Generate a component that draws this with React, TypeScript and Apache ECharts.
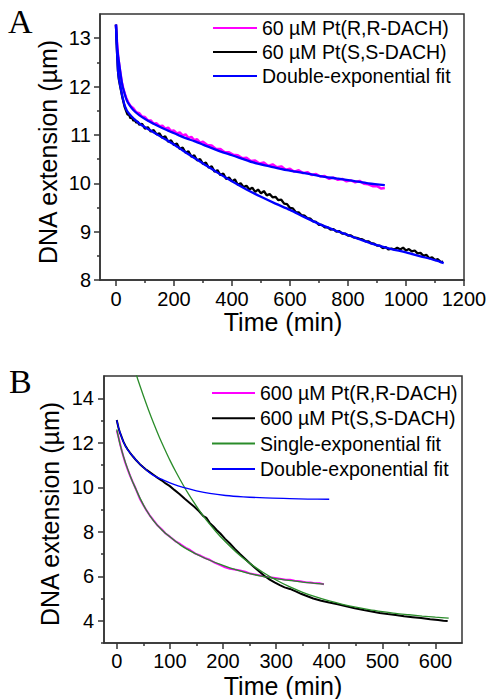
import { useEffect, useRef } from 'react';
import * as echarts from 'echarts';

const FONT = '"Liberation Sans", Arial, sans-serif';
const SERIF = '"Liberation Serif", "Times New Roman", serif';

// ---------- Panel A ----------
const xTicksA = [0, 200, 400, 600, 800, 1000, 1200];
const xMinorA = [100, 300, 500, 700, 900, 1100];
const yTicksA = [8, 9, 10, 11, 12, 13];
const yMinorA = [8.5, 9.5, 10.5, 11.5, 12.5];

const nameRR60 = '60 µM Pt(R,R-DACH)';
const nameSS60 = '60 µM Pt(S,S-DACH)';
const nameDouble = 'Double-exponential fit';
const nameRR600 = '600 µM Pt(R,R-DACH)';
const nameSS600 = '600 µM Pt(S,S-DACH)';
const nameSingle = 'Single-exponential fit';

const rr60Data = [
  [0, 13.28], [4, 12.88], [8, 12.6], [12, 12.42], [16, 12.26], [20, 12.1], [25, 11.97], [30, 11.86],
  [36, 11.76], [42, 11.68], [50, 11.6], [60, 11.55], [70, 11.47], [80, 11.45], [90, 11.38], [100, 11.37],
  [110, 11.3], [120, 11.3], [130, 11.23], [140, 11.24], [150, 11.18], [160, 11.19], [170, 11.13], [180, 11.15],
  [190, 11.08], [200, 11.09], [210, 11.03], [220, 11.05], [230, 10.99], [240, 11.01], [250, 10.94], [260, 10.96],
  [270, 10.89], [280, 10.91], [290, 10.84], [300, 10.86], [315, 10.79], [330, 10.78], [345, 10.71], [360, 10.71],
  [375, 10.64], [390, 10.64], [405, 10.59], [420, 10.58], [435, 10.52], [450, 10.53], [465, 10.46], [480, 10.47],
  [495, 10.41], [510, 10.43], [525, 10.36], [540, 10.39], [555, 10.33], [570, 10.35], [585, 10.28], [600, 10.3],
  [615, 10.24], [630, 10.27], [645, 10.21], [660, 10.23], [675, 10.17], [690, 10.19], [705, 10.14], [720, 10.15],
  [735, 10.09], [750, 10.12], [765, 10.07], [780, 10.09], [795, 10.04], [810, 10.06], [825, 10.02], [840, 10.05],
  [855, 9.99], [870, 9.98], [885, 9.94], [900, 9.94], [915, 9.89], [927, 9.9],
];
const rr60Fit = [
  [0, 13.28], [3, 12.95], [6, 12.7], [10, 12.52], [14, 12.34], [18, 12.17], [23, 12.0], [30, 11.85],
  [37, 11.72], [45, 11.63], [59, 11.52], [80, 11.41], [106, 11.31], [140, 11.2], [175, 11.1], [210, 11.01],
  [238, 10.94], [270, 10.87], [300, 10.8], [359, 10.66], [400, 10.58], [473, 10.43], [530, 10.35], [589, 10.27],
  [650, 10.21], [703, 10.15], [760, 10.1], [818, 10.05], [870, 10.0], [927, 9.96],
];
const ss60Data = [
  [0, 13.28], [3, 12.8], [7, 12.32], [10, 12.15], [14, 12.02], [18, 11.9], [22, 11.78], [26, 11.68],
  [30, 11.58], [35, 11.5], [40, 11.42], [45, 11.42], [50, 11.34], [55, 11.37], [60, 11.29], [65, 11.32],
  [70, 11.25], [75, 11.28], [80, 11.21], [90, 11.23], [100, 11.13], [110, 11.16], [120, 11.07], [130, 11.1],
  [140, 11.01], [150, 11.03], [160, 10.94], [170, 10.97], [180, 10.86], [190, 10.89], [200, 10.79], [210, 10.82],
  [220, 10.71], [230, 10.74], [240, 10.63], [250, 10.66], [260, 10.55], [270, 10.58], [280, 10.47], [290, 10.5],
  [300, 10.4], [310, 10.43], [320, 10.32], [330, 10.35], [340, 10.24], [350, 10.27], [360, 10.17], [370, 10.2],
  [380, 10.09], [390, 10.12], [400, 10.04], [410, 10.08], [420, 9.97], [430, 10.0], [440, 9.92], [450, 9.95],
  [460, 9.87], [470, 9.91], [480, 9.82], [490, 9.87], [500, 9.79], [510, 9.84], [520, 9.75], [530, 9.78],
  [540, 9.71], [550, 9.72], [560, 9.65], [570, 9.66], [580, 9.58], [590, 9.57], [600, 9.49], [610, 9.48],
  [620, 9.4], [630, 9.4], [640, 9.34], [650, 9.33], [660, 9.28], [670, 9.27], [680, 9.21], [690, 9.2],
  [700, 9.14], [710, 9.14], [720, 9.09], [730, 9.09], [740, 9.04], [750, 9.05], [760, 9.0], [770, 9.01],
  [780, 8.96], [790, 8.96], [800, 8.92], [810, 8.92], [820, 8.88], [830, 8.87], [840, 8.85], [850, 8.84],
  [860, 8.8], [870, 8.8], [880, 8.76], [890, 8.75], [900, 8.71], [910, 8.71], [920, 8.66], [930, 8.68],
  [940, 8.63], [950, 8.65], [960, 8.63], [970, 8.67], [980, 8.63], [990, 8.67], [1000, 8.61], [1010, 8.64],
  [1020, 8.59], [1030, 8.61], [1040, 8.55], [1050, 8.56], [1060, 8.5], [1070, 8.52], [1080, 8.45], [1090, 8.47],
  [1100, 8.41], [1110, 8.43], [1120, 8.37], [1128, 8.38],
];
const ss60Fit = [
  [0, 13.28], [3, 12.82], [7, 12.34], [10, 12.18], [16, 11.98], [22, 11.8], [28, 11.65], [34, 11.55],
  [40, 11.48], [54, 11.38], [70, 11.29], [89, 11.2], [117, 11.1], [150, 10.98], [200, 10.8], [250, 10.6],
  [300, 10.41], [350, 10.22], [400, 10.04], [450, 9.87], [500, 9.72], [550, 9.58], [600, 9.45], [650, 9.3],
  [700, 9.16], [750, 9.04], [800, 8.93], [850, 8.82], [900, 8.72], [950, 8.64], [1000, 8.57], [1050, 8.49],
  [1100, 8.41], [1130, 8.35],
];

// ---------- Panel B ----------
const xTicksB = [0, 100, 200, 300, 400, 500, 600];
const xMinorB = [50, 150, 250, 350, 450, 550];
const yTicksB = [4, 6, 8, 10, 12, 14];
const yMinorB = [3, 5, 7, 9, 11, 13];

const rr600Data = [
  [0, 12.55], [3, 12.28], [6, 11.98], [9, 11.68], [12.5, 11.38], [16, 11.1], [20, 10.84], [25, 10.52],
  [30, 10.24], [36, 9.92], [44, 9.46], [50, 9.2], [56, 8.96], [62, 8.74], [69, 8.52], [77, 8.28],
  [85, 8.1], [92, 7.92], [100, 7.78], [110, 7.58], [120, 7.44], [130, 7.28], [138, 7.18], [148, 7.02],
  [158, 6.92], [166, 6.82], [175, 6.74], [185, 6.6], [195, 6.5], [204, 6.4], [213, 6.34], [222, 6.3],
  [232, 6.26], [242, 6.2], [251, 6.12], [260, 6.08], [270, 6.03], [280, 5.98], [288, 5.95], [298, 5.92],
  [310, 5.88], [318, 5.84], [326, 5.84], [335, 5.8], [345, 5.78], [355, 5.73], [365, 5.72], [375, 5.68],
  [383, 5.68], [390, 5.64],
];
const rr600Fit = [
  [0, 12.6], [6, 11.95], [12.5, 11.4], [20, 10.86], [28, 10.35], [36, 9.92], [44, 9.5], [55, 9.0],
  [69, 8.5], [85, 8.08], [100, 7.77], [120, 7.4], [138, 7.14], [158, 6.9], [175, 6.72], [195, 6.53],
  [213, 6.38], [235, 6.22], [251, 6.12], [270, 6.02], [288, 5.94], [310, 5.86], [330, 5.8], [350, 5.74],
  [370, 5.69], [390, 5.65],
];
const ss600Data = [
  [0, 13.02], [3, 12.7], [6, 12.45], [9, 12.27], [12.5, 12.05], [16, 11.88], [20, 11.72], [25, 11.55],
  [31, 11.37], [37, 11.2], [43, 11.05], [50, 10.9], [56, 10.78], [62, 10.68], [69, 10.56], [77, 10.42],
  [85, 10.3], [92, 10.17], [100, 10.05], [109, 9.87], [118, 9.7], [128, 9.48], [138, 9.28], [146, 9.12],
  [155, 8.92], [163, 8.7], [169, 8.62], [175, 8.4], [182, 8.24], [188, 8.08], [195, 7.92], [204, 7.68],
  [213, 7.47], [222, 7.24], [232, 7.0], [241, 6.8], [251, 6.57], [260, 6.38], [270, 6.18], [279, 6.0],
  [288, 5.85], [298, 5.71], [307, 5.6], [316, 5.5], [326, 5.43], [337, 5.32], [348, 5.2], [359, 5.1],
  [370, 5.0], [385, 4.9], [400, 4.82], [416, 4.74], [432, 4.65], [448, 4.56], [465, 4.48], [480, 4.42],
  [495, 4.35], [510, 4.3], [525, 4.26], [541, 4.2], [557, 4.16], [573, 4.12], [590, 4.07], [605, 4.03],
  [615, 4.0], [623, 3.99],
];
const ss600Single = [
  [37, 15.04], [40, 14.82], [50, 14.12], [60, 13.46], [70, 12.84], [80, 12.26], [90, 11.73], [100, 11.22],
  [112, 10.66], [125, 10.1], [137, 9.62], [150, 9.15], [162, 8.74], [175, 8.34], [187, 8.0], [200, 7.66],
  [225, 7.08], [250, 6.59], [275, 6.18], [300, 5.83], [325, 5.53], [350, 5.28], [375, 5.07], [400, 4.89],
  [425, 4.74], [450, 4.61], [475, 4.5], [500, 4.41], [525, 4.33], [550, 4.27], [575, 4.21], [600, 4.16],
  [625, 4.12],
];
const ss600Double = [
  [0, 13.02], [5, 12.55], [12.5, 12.05], [20, 11.7], [31, 11.37], [43, 11.05], [56, 10.77], [70, 10.52],
  [88, 10.32], [105, 10.15], [125, 9.99], [150, 9.84], [175, 9.72], [205, 9.63], [238, 9.57], [280, 9.52],
  [326, 9.49], [360, 9.47], [400, 9.46],
];

const MAGENTA = '#ff00ff';
const BLACK = '#000000';
const BLUE = '#0000ff';
const GREEN = '#2a8c2a';
const AXIS = '#333333';

function mainAxis(grid: number, min: number, max: number, ticks: number[], margin: number, pos: string) {
  return {
    type: 'value', gridIndex: grid, min, max, position: pos,
    axisLine: { show: true, onZero: false, lineStyle: { color: AXIS, width: 1.5 } },
    axisTick: { show: true, inside: false, length: 6, customValues: ticks, lineStyle: { color: AXIS, width: 1.5 } },
    axisLabel: {
      show: true, customValues: ticks, margin, fontSize: 20, fontFamily: FONT, color: '#000',
      formatter: (v: number) => String(v),
    },
    splitLine: { show: false },
    minorTick: { show: false },
  };
}
function minorAxis(grid: number, min: number, max: number, ticks: number[], pos: string) {
  return {
    type: 'value', gridIndex: grid, min, max, position: pos,
    axisLine: { show: false, onZero: false },
    axisTick: { show: true, inside: false, length: 3, customValues: ticks, lineStyle: { color: AXIS, width: 1.5 } },
    axisLabel: { show: false },
    splitLine: { show: false },
  };
}
function line(name: string, data: number[][], color: string, width: number, xi: number, yi: number, smooth: boolean) {
  return {
    type: 'line', name, data, xAxisIndex: xi, yAxisIndex: yi,
    showSymbol: false, symbol: 'none', smooth: smooth ? 0.3 : false,
    lineStyle: { color, width }, itemStyle: { color },
    clip: true, silent: true,
  };
}

const legendText = { fontSize: 19.5, fontFamily: FONT, color: '#000', lineHeight: 20 };

const option = {
  animation: false,
  backgroundColor: '#fff',
  grid: [
    { left: 100, top: 14, width: 364, height: 266, show: true, borderColor: AXIS, borderWidth: 1.5 },
    { left: 104, top: 376, width: 358, height: 267, show: true, borderColor: AXIS, borderWidth: 1.5 },
  ],
  xAxis: [
    mainAxis(0, -55, 1200, xTicksA, 9, 'bottom'),
    minorAxis(0, -55, 1200, xMinorA, 'bottom'),
    mainAxis(1, -24, 650, xTicksB, 8, 'bottom'),
    minorAxis(1, -24, 650, xMinorB, 'bottom'),
  ],
  yAxis: [
    mainAxis(0, 8, 13.5, yTicksA, 9, 'left'),
    minorAxis(0, 8, 13.5, yMinorA, 'left'),
    mainAxis(1, 3, 15, yTicksB, 10, 'left'),
    minorAxis(1, 3, 15, yMinorB, 'left'),
  ],
  legend: [
    {
      orient: 'vertical', left: 213, top: 18, itemWidth: 44, itemHeight: 2, itemGap: 4, icon: 'rect',
      padding: 0, selectedMode: false, textStyle: legendText,
      data: [nameRR60, nameSS60, nameDouble],
    },
    {
      orient: 'vertical', left: 212, top: 383, itemWidth: 43, itemHeight: 2, itemGap: 5.3, icon: 'rect',
      padding: 0, selectedMode: false, textStyle: legendText,
      data: [nameRR600, nameSS600, nameSingle, nameDouble],
    },
  ],
  series: [
    line(nameRR60, rr60Data, MAGENTA, 2.5, 0, 0, false),
    line(nameSS60, ss60Data, BLACK, 2.3, 0, 0, false),
    line(nameDouble, rr60Fit, BLUE, 2.3, 0, 0, true),
    line(nameDouble, ss60Fit, BLUE, 2.3, 0, 0, true),
    line(nameRR600, rr600Data, MAGENTA, 2, 2, 2, false),
    line(nameSS600, ss600Data, BLACK, 2, 2, 2, false),
    line(nameSingle, rr600Fit, GREEN, 1.3, 2, 2, true),
    line(nameSingle, ss600Single, GREEN, 1.3, 2, 2, true),
    line(nameDouble, ss600Double, BLUE, 1.3, 2, 2, true),
  ],
  graphic: [
    { type: 'text', left: 8, top: 4, style: { text: 'A', fontSize: 34, fontFamily: SERIF, fill: '#000' } },
    { type: 'text', left: 9, top: 364, style: { text: 'B', fontSize: 34, fontFamily: SERIF, fill: '#000' } },
    {
      type: 'text', x: 48, y: 152, rotation: Math.PI / 2,
      style: { text: 'DNA extension (µm)', fontSize: 25, fontFamily: FONT, fill: '#000', align: 'center', verticalAlign: 'middle' },
    },
    {
      type: 'text', x: 50, y: 514, rotation: Math.PI / 2,
      style: { text: 'DNA extension (µm)', fontSize: 25, fontFamily: FONT, fill: '#000', align: 'center', verticalAlign: 'middle' },
    },
    {
      type: 'text', x: 283, y: 322,
      style: { text: 'Time (min)', fontSize: 25, fontFamily: FONT, fill: '#000', align: 'center', verticalAlign: 'middle' },
    },
    {
      type: 'text', x: 283, y: 686,
      style: { text: 'Time (min)', fontSize: 25, fontFamily: FONT, fill: '#000', align: 'center', verticalAlign: 'middle' },
    },
  ],
};

export default function App() {
  const ref = useRef<HTMLDivElement>(null);
  useEffect(() => {
    const chart = echarts.init(ref.current!, null, { renderer: 'svg' });
    chart.setOption(option as any);
    return () => chart.dispose();
  }, []);
  return (
    <div
      ref={ref}
      style={{ position: 'absolute', left: 0, top: 0, width: 491, height: 699, background: '#fff' }}
    />
  );
}
